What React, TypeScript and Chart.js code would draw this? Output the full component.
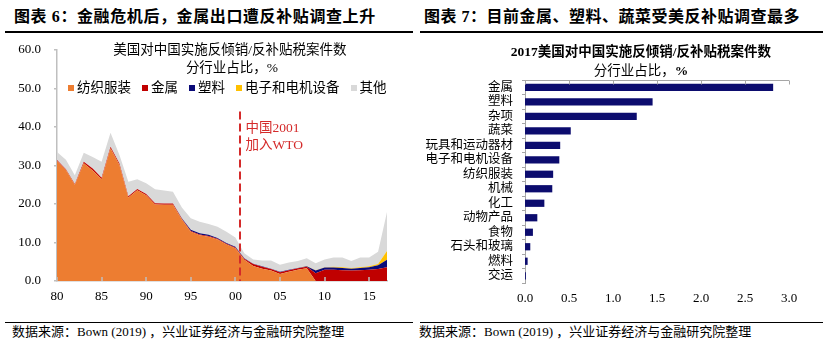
import React, { useEffect, useRef } from "react";
import { Chart, registerables } from "chart.js";

Chart.register(...registerables);

// ---------- Left chart data (share of US AD/CVD cases on China by sector, %) ----------
const years = [
  1980, 1981, 1982, 1983, 1984, 1985, 1986, 1987, 1988, 1989,
  1990, 1991, 1992, 1993, 1994, 1995, 1996, 1997, 1998, 1999,
  2000, 2001, 2002, 2003, 2004, 2005, 2006, 2007, 2008, 2009,
  2010, 2011, 2012, 2013, 2014, 2015, 2016, 2017,
];
const textileShare = [
  31.2, 28.8, 25.0, 30.6, 28.7, 26.4, 34.5, 30.1, 21.7, 23.6,
  22.3, 19.9, 19.8, 19.8, 16.0, 12.8, 11.9, 11.5, 10.8, 9.5,
  8.5, 5.5, 3.9, 3.2, 2.7, 1.8, 2.4, 2.9, 3.3, 0,
  0, 0, 0, 0, 0, 0, 0, 0,
];
const metalShare = [
  0.2, 0.2, 0.2, 0.4, 0.5, 0.4, 0.4, 0.4, 0.3, 0.3,
  0.3, 0.3, 0.3, 0.3, 0.2, 0.2, 0.2, 0.2, 0.2, 0.2,
  0.2, 0.3, 0.5, 0.5, 0.4, 0.5, 0.4, 0.4, 0.4, 2.0,
  2.9, 2.9, 2.8, 2.7, 2.8, 2.9, 3.1, 3.6,
];
const plasticShare = [
  0, 0, 0, 0, 0, 0, 0, 0, 0, 0,
  0, 0, 0, 0, 0.1, 0.3, 0.3, 0.3, 0.2, 0.2,
  0.2, 0.1, 0.1, 0.1, 0.1, 0.1, 0.1, 0.1, 0.1, 0.7,
  0.6, 0.6, 0.6, 0.5, 0.6, 0.7, 1.0, 1.9,
];
const electronicsShare = [
  0, 0, 0, 0, 0, 0, 0, 0, 0, 0,
  0, 0, 0, 0, 0, 0, 0, 0, 0, 0,
  0, 0, 0, 0, 0, 0, 0, 0, 0.1, 0.1,
  0.1, 0.2, 0.2, 0.2, 0.2, 0.2, 0.3, 2.3,
];
const otherShare = [
  2.1, 2.5, 2.3, 2.3, 3.0, 4.2, 3.6, 2.2, 3.8, 2.5,
  2.8, 3.6, 3.4, 3.1, 2.8, 3.0, 3.0, 2.8, 2.9, 2.9,
  2.4, 1.3, 1.1, 1.5, 2.1, 1.8, 1.9, 1.8, 2.0, 1.8,
  2.0, 2.4, 2.5, 1.8, 2.5, 2.3, 3.2, 10.1,
];
const seriesNames = ["纺织服装", "金属", "塑料", "电子和电机设备", "其他"];
const seriesValues = [textileShare, metalShare, plasticShare, electronicsShare, otherShare];
const seriesColors = ["#ED7D31", "#C00000", "#0A0A78", "#FFC000", "#D9D9D9"];
const wtoYear = 2000.5;
const wtoLineTop = 44;
const wtoText = ["中国2001", "加入WTO"];

// ---------- Right chart data (2017 share by sector, %) ----------
const sectors = [
  "金属", "塑料", "杂项", "蔬菜", "玩具和运动器材", "电子和电机设备", "纺织服装",
  "机械", "化工", "动物产品", "食物", "石头和玻璃", "燃料", "交运",
];
const shares2017 = [2.82, 1.45, 1.27, 0.52, 0.40, 0.39, 0.32, 0.31, 0.22, 0.14, 0.09, 0.06, 0.03, 0.01];

const SERIF_CJK = "'Liberation Serif', 'Noto Sans CJK SC', serif";
const AXIS_GREY = "#BFBFBF";

const leftDecor = {
  id: "leftDecor",
  afterDatasetsDraw(chart: any) {
    const { ctx, chartArea, scales } = chart;
    const x = scales.x;
    const y = scales.y;
    ctx.save();
    ctx.strokeStyle = AXIS_GREY;
    ctx.lineWidth = 1.5;
    x.ticks.forEach((t: any) => {
      const px = Math.round(x.getPixelForValue(t.value));
      ctx.beginPath();
      ctx.moveTo(px, chartArea.bottom);
      ctx.lineTo(px, chartArea.bottom - 4);
      ctx.stroke();
    });
    ctx.strokeStyle = "#D42A2A";
    ctx.lineWidth = 2;
    ctx.setLineDash([8, 4]);
    const wx = Math.round(x.getPixelForValue(wtoYear));
    ctx.beginPath();
    ctx.moveTo(wx, y.getPixelForValue(wtoLineTop));
    ctx.lineTo(wx, chartArea.bottom);
    ctx.stroke();
    ctx.restore();
  },
};

const rightDecor = {
  id: "rightDecor",
  afterDatasetsDraw(chart: any) {
    const { ctx, chartArea, scales } = chart;
    const x = scales.x;
    ctx.save();
    ctx.strokeStyle = "#A6A6A6";
    ctx.lineWidth = 1;
    const top = Math.round(chartArea.top) + 0.5;
    ctx.beginPath();
    ctx.moveTo(chartArea.left, top);
    ctx.lineTo(chartArea.right, top);
    ctx.stroke();
    x.ticks.forEach((t: any) => {
      const px = Math.round(x.getPixelForValue(t.value)) + 0.5;
      ctx.beginPath();
      ctx.moveTo(px, top);
      ctx.lineTo(px, top + 4);
      ctx.stroke();
    });
    ctx.restore();
  },
};

function LeftChart() {
  const ref = useRef<HTMLCanvasElement>(null);
  useEffect(() => {
    const chart = new Chart(ref.current as HTMLCanvasElement, {
      type: "line",
      data: {
        datasets: seriesValues.map((vals, i) => ({
          label: seriesNames[i],
          data: years.map((yr, j) => ({ x: yr, y: vals[j] })),
          backgroundColor: seriesColors[i],
          borderColor: "rgba(0,0,0,0)",
          borderWidth: 0,
          pointRadius: 0,
          tension: 0,
          fill: i === 0 ? "origin" : "-1",
        })),
      },
      options: {
        animation: false,
        responsive: false,
        maintainAspectRatio: false,
        layout: { padding: { top: 14, right: 23, left: 0, bottom: 0 } },
        plugins: { legend: { display: false }, tooltip: { enabled: false }, title: { display: false } },
        scales: {
          x: {
            type: "linear",
            min: 1980,
            max: 2017,
            grid: { display: false, drawTicks: false, tickLength: 0 },
            border: { display: true, color: AXIS_GREY, width: 1.5 },
            ticks: {
              stepSize: 5,
              includeBounds: false,
              autoSkip: false,
              maxRotation: 0,
              padding: 8,
              color: "#000",
              font: { family: SERIF_CJK, size: 13 },
              callback: (v: any) => String(v).slice(-2),
            },
            afterFit: (s: any) => {
              s.height = 35;
              s.paddingLeft = 0;
              s.paddingRight = 0;
            },
          },
          y: {
            stacked: true,
            min: 0,
            max: 60,
            grid: { display: true, drawOnChartArea: false, tickLength: 3, color: AXIS_GREY, lineWidth: 1.5 },
            border: { display: true, color: AXIS_GREY, width: 1.5 },
            ticks: {
              stepSize: 10,
              padding: 13,
              color: "#000",
              font: { family: SERIF_CJK, size: 13 },
              callback: (v: any) => Number(v).toFixed(1),
            },
            afterFit: (s: any) => {
              s.width = 57;
              s.paddingTop = 0;
              s.paddingBottom = 0;
            },
          },
        },
      } as any,
      plugins: [leftDecor],
    });
    return () => chart.destroy();
  }, []);
  return <canvas ref={ref} width={410} height={280} style={{ position: "absolute", left: 0, top: 36 }} />;
}

function RightChart() {
  const ref = useRef<HTMLCanvasElement>(null);
  useEffect(() => {
    const chart = new Chart(ref.current as HTMLCanvasElement, {
      type: "bar",
      data: {
        labels: sectors,
        datasets: [
          {
            data: shares2017,
            backgroundColor: "#0C0C6E",
            borderWidth: 0,
            categoryPercentage: 1,
            barPercentage: 0.5,
          },
        ],
      },
      options: {
        indexAxis: "y",
        animation: false,
        responsive: false,
        maintainAspectRatio: false,
        layout: { padding: { top: 44, right: 47, left: 0, bottom: 0 } },
        plugins: { legend: { display: false }, tooltip: { enabled: false }, title: { display: false } },
        scales: {
          x: {
            type: "linear",
            min: 0,
            max: 3,
            grid: { display: false, drawTicks: false, tickLength: 0 },
            border: { display: false },
            ticks: {
              stepSize: 0.5,
              padding: 8,
              color: "#000",
              font: { family: SERIF_CJK, size: 13 },
              callback: (v: any) => Number(v).toFixed(1),
            },
            afterFit: (s: any) => {
              s.height = 33;
              s.paddingLeft = 0;
              s.paddingRight = 0;
            },
          },
          y: {
            grid: { display: true, drawOnChartArea: false, tickLength: 3, color: "#A6A6A6", offset: true },
            border: { display: true, color: "#A6A6A6", width: 1 },
            ticks: {
              autoSkip: false,
              padding: 9,
              color: "#000",
              font: { family: SERIF_CJK, size: 12.5 },
            },
            afterFit: (s: any) => {
              s.width = 105;
              s.paddingTop = 0;
              s.paddingBottom = 0;
            },
          },
        },
      } as any,
      plugins: [rightDecor],
    });
    return () => chart.destroy();
  }, []);
  return <canvas ref={ref} width={416} height={280} style={{ position: "absolute", left: 420, top: 36 }} />;
}

const abs = (extra: React.CSSProperties): React.CSSProperties => ({
  position: "absolute",
  whiteSpace: "nowrap",
  fontFamily: SERIF_CJK,
  color: "#000",
  ...extra,
});

export default function App() {
  return (
    <div style={{ position: "relative", width: 836, height: 352, background: "#fff", overflow: "hidden" }}>
      <style>{`body{margin:0;background:#fff}`}</style>

      {/* Headers */}
      <div style={abs({ left: 14, top: 7, fontSize: 16, lineHeight: "20px", fontWeight: "bold", letterSpacing: 0.6 })}>
        图表 6：金融危机后，金属出口遭反补贴调查上升
      </div>
      <div style={abs({ left: 424, top: 7, fontSize: 16, lineHeight: "20px", fontWeight: "bold", letterSpacing: 0.5 })}>
        图表 7：目前金属、塑料、蔬菜受美反补贴调查最多
      </div>
      <div style={{ position: "absolute", left: 5, top: 31, width: 408, height: 2, background: "#000" }} />
      <div style={{ position: "absolute", left: 420, top: 31, width: 403, height: 2, background: "#000" }} />

      <LeftChart />
      <RightChart />

      {/* Left chart title + legend */}
      <div style={abs({ left: 90, width: 280, top: 40.5, fontSize: 13.5, lineHeight: "18px", textAlign: "center" })}>
        美国对中国实施反倾销/反补贴税案件数
      </div>
      <div style={abs({ left: 92, width: 280, top: 59, fontSize: 13.5, lineHeight: "18px", textAlign: "center" })}>
        分行业占比，%
      </div>
      <div style={abs({ left: 68, top: 79, height: 18, display: "flex", alignItems: "center", fontSize: 13.5 })}>
        {seriesNames.map((n, i) => (
          <div key={n} style={{ display: "flex", alignItems: "center", marginRight: 11 }}>
            <span style={{ display: "inline-block", width: 6, height: 6, background: seriesColors[i], marginRight: 3 }} />
            <span style={{ lineHeight: "18px" }}>{n}</span>
          </div>
        ))}
      </div>
      <div style={abs({ left: 245.5, top: 118.5, fontSize: 13.5, lineHeight: "17px", color: "#D42A2A" })}>
        {wtoText.map((t) => (
          <div key={t}>{t}</div>
        ))}
      </div>

      {/* Right chart title */}
      <div style={abs({ left: 491, width: 300, top: 43, fontSize: 13.5, lineHeight: "18px", textAlign: "center", fontWeight: "bold" })}>
        2017美国对中国实施反倾销/反补贴税案件数
      </div>
      <div style={abs({ left: 491, width: 300, top: 62, fontSize: 13.5, lineHeight: "18px", textAlign: "center" })}>
        分行业占比，<b>%</b>
      </div>

      {/* Footers */}
      <div style={{ position: "absolute", left: 5, top: 322, width: 408, height: 1, background: "#000" }} />
      <div style={{ position: "absolute", left: 420, top: 322, width: 403, height: 1, background: "#000" }} />
      <div style={abs({ left: 12, top: 324, fontSize: 13, lineHeight: "16px" })}>
        数据来源：Bown (2019) ，兴业证券经济与金融研究院整理
      </div>
      <div style={abs({ left: 419, top: 324, fontSize: 13, lineHeight: "16px" })}>
        数据来源：Bown (2019) ，兴业证券经济与金融研究院整理
      </div>
    </div>
  );
}
